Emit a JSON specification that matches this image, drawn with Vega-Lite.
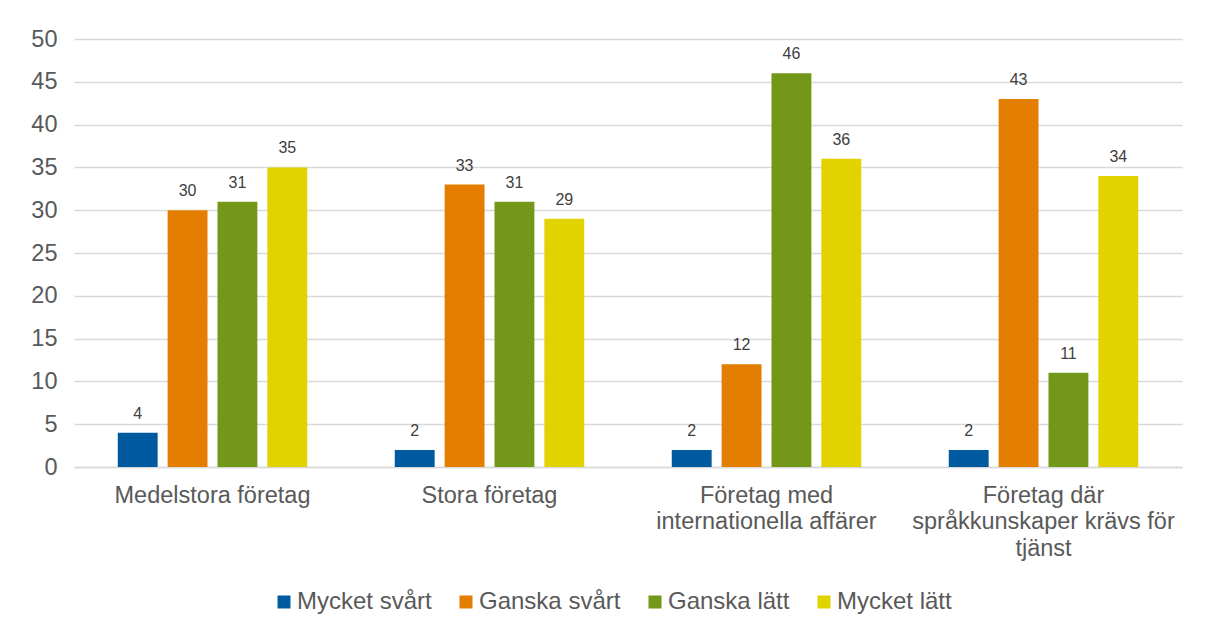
{
  "$schema": "https://vega.github.io/schema/vega-lite/v6.json",
  "width": 1108,
  "height": 428,
  "autosize": {"type": "none"},
  "padding": {"left": 74, "top": 39, "right": 26, "bottom": 168},
  "background": "white",
  "config": {
    "font": "Liberation Sans",
    "view": {"stroke": null},
    "axis": {"labelFont": "Liberation Sans", "labelColor": "#595959", "titleColor": "#595959"}
  },
  "data": {
    "values": [
      {"grupp": "Medelstora företag", "svar": "Mycket svårt", "andel": 4},
      {"grupp": "Medelstora företag", "svar": "Ganska svårt", "andel": 30},
      {"grupp": "Medelstora företag", "svar": "Ganska lätt", "andel": 31},
      {"grupp": "Medelstora företag", "svar": "Mycket lätt", "andel": 35},
      {"grupp": "Stora företag", "svar": "Mycket svårt", "andel": 2},
      {"grupp": "Stora företag", "svar": "Ganska svårt", "andel": 33},
      {"grupp": "Stora företag", "svar": "Ganska lätt", "andel": 31},
      {"grupp": "Stora företag", "svar": "Mycket lätt", "andel": 29},
      {"grupp": "Företag med internationella affärer", "svar": "Mycket svårt", "andel": 2},
      {"grupp": "Företag med internationella affärer", "svar": "Ganska svårt", "andel": 12},
      {"grupp": "Företag med internationella affärer", "svar": "Ganska lätt", "andel": 46},
      {"grupp": "Företag med internationella affärer", "svar": "Mycket lätt", "andel": 36},
      {"grupp": "Företag där språkkunskaper krävs för tjänst", "svar": "Mycket svårt", "andel": 2},
      {"grupp": "Företag där språkkunskaper krävs för tjänst", "svar": "Ganska svårt", "andel": 43},
      {"grupp": "Företag där språkkunskaper krävs för tjänst", "svar": "Ganska lätt", "andel": 11},
      {"grupp": "Företag där språkkunskaper krävs för tjänst", "svar": "Mycket lätt", "andel": 34}
    ]
  },
  "encoding": {
    "x": {
      "field": "grupp",
      "type": "nominal",
      "sort": null,
      "scale": {"paddingInner": 0.28, "paddingOuter": 0.14},
      "axis": {
        "title": null,
        "labelAngle": 0,
        "labelFontSize": 23.5,
        "labelLineHeight": 26.5,
        "labelPadding": 16,
        "labelBaseline": "top",
        "ticks": false,
        "domain": true,
        "domainColor": "#D9D9D9",
        "domainWidth": 1.5,
        "labelLimit": 400,
        "labelExpr": "datum.value == 'Företag med internationella affärer' ? ['Företag med', 'internationella affärer'] : datum.value == 'Företag där språkkunskaper krävs för tjänst' ? ['Företag där', 'språkkunskaper krävs för', 'tjänst'] : datum.value"
      }
    },
    "xOffset": {
      "field": "svar",
      "type": "nominal",
      "sort": ["Mycket svårt", "Ganska svårt", "Ganska lätt", "Mycket lätt"],
      "scale": {"paddingInner": 0.2, "paddingOuter": 0.1}
    },
    "y": {
      "field": "andel",
      "type": "quantitative",
      "scale": {"domain": [0, 50]},
      "axis": {
        "title": null,
        "values": [0, 5, 10, 15, 20, 25, 30, 35, 40, 45, 50],
        "labelFontSize": 23.5,
        "labelPadding": 17,
        "ticks": false,
        "domain": false,
        "gridColor": "#D9D9D9",
        "gridWidth": 1.3
      }
    }
  },
  "layer": [
    {
      "mark": {"type": "bar"},
      "encoding": {
        "color": {
          "field": "svar",
          "type": "nominal",
          "sort": ["Mycket svårt", "Ganska svårt", "Ganska lätt", "Mycket lätt"],
          "scale": {
            "domain": ["Mycket svårt", "Ganska svårt", "Ganska lätt", "Mycket lätt"],
            "range": ["#005AA0", "#E37E00", "#739819", "#E1D300"]
          },
          "legend": {
            "title": null,
            "orient": "none",
            "legendX": 198,
            "legendY": 551,
            "direction": "horizontal",
            "padding": 0,
            "symbolType": "square",
            "symbolSize": 169,
            "symbolStrokeWidth": 0,
            "labelFontSize": 24,
            "labelColor": "#595959",
            "labelFont": "Liberation Sans",
            "labelOffset": 1,
            "columnPadding": 22
          }
        }
      }
    },
    {
      "mark": {"type": "text", "baseline": "bottom", "dy": -11, "fontSize": 16, "color": "#404040", "font": "Liberation Sans"},
      "encoding": {"text": {"field": "andel", "type": "quantitative"}}
    }
  ]
}
